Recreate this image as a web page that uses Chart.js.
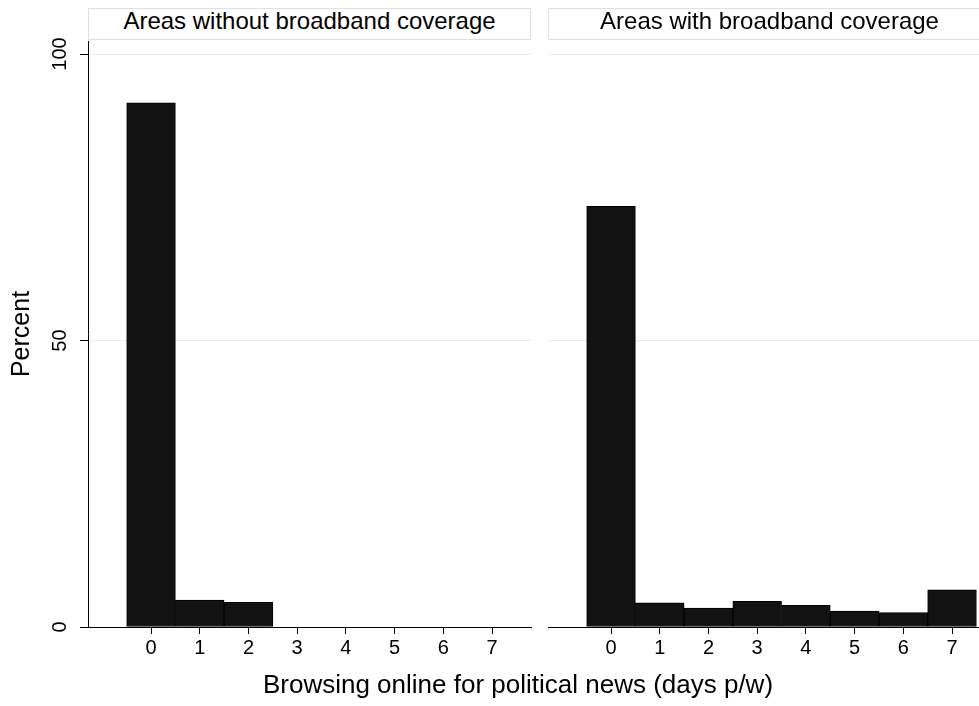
<!DOCTYPE html>
<html>
<head>
<meta charset="utf-8">
<script src="https://cdn.jsdelivr.net/npm/chart.js@4.4.1/dist/chart.umd.min.js"></script>
<style>
  html, body { margin: 0; padding: 0; background: #fff; }
  body { width: 979px; height: 706px; overflow: hidden; position: relative;
         font-family: "Liberation Sans", Arial, sans-serif; color: #000; }
  canvas { position: absolute; top: 0; }
  .strip { position: absolute; top: 8px; height: 30px; border: 1px solid #d7e4eb;
           background: #fff; font-size: 24px; line-height: 24px; text-align: center;
           white-space: nowrap; overflow: hidden; z-index: 2; }
  #xtitle { position: absolute; top: 671px; left: 0; width: 1036px; text-align: center;
            font-size: 26px; line-height: 26px; white-space: nowrap; }
</style>
</head>
<body>
<div class="strip" id="strip0" style="left:88px; width:441px;"></div>
<div class="strip" id="strip1" style="left:548px; width:441px;"></div>
<canvas id="panel0" width="540" height="706" style="left:0;"></canvas>
<canvas id="panel1" width="461" height="706" style="left:530px;"></canvas>
<div id="xtitle"></div>
<script>
// Days per week spent browsing online for political news
const days = [0, 1, 2, 3, 4, 5, 6, 7];
// Percent of respondents in each group
const noBroadband   = [91.5, 4.7, 4.3, 0, 0, 0, 0, 0];
const withBroadband = [73.4, 4.2, 3.3, 4.5, 3.8, 2.8, 2.5, 6.5];
const percentTicks = [0, 50, 100];
const panelTitles = ['Areas without broadband coverage', 'Areas with broadband coverage'];
const xTitle = 'Browsing online for political news (days p/w)';
const yTitle = 'Percent';

const FONT = '"Liberation Sans", Arial, sans-serif';

document.getElementById('strip0').textContent = panelTitles[0];
document.getElementById('strip1').textContent = panelTitles[1];
document.getElementById('xtitle').textContent = xTitle;

// Vertical (bottom-to-top) tick labels for the percent axis
const rotatedYTicks = {
  id: 'rotatedYTicks',
  afterDraw(chart, args, opts) {
    if (!opts.show) return;
    const scale = chart.scales.y;
    const ctx = chart.ctx;
    ctx.save();
    ctx.font = '20px ' + FONT;
    ctx.fillStyle = '#000';
    ctx.textAlign = 'center';
    ctx.textBaseline = 'middle';
    scale.ticks.forEach(t => {
      ctx.save();
      ctx.translate(opts.x, scale.getPixelForValue(t.value));
      ctx.rotate(-Math.PI / 2);
      ctx.fillText(String(t.value), 0, 0);
      ctx.restore();
    });
    ctx.restore();
  }
};

function makePanel(id, values, showYAxis) {
  return new Chart(document.getElementById(id), {
    type: 'bar',
    data: {
      datasets: [{
        data: days.map((d, i) => ({ x: d, y: values[i] })),
        backgroundColor: '#121212',
        borderColor: '#000',
        borderWidth: 1,
        borderSkipped: false,
        barPercentage: 1,
        categoryPercentage: 1
      }]
    },
    options: {
      responsive: false,
      animation: false,
      devicePixelRatio: 1,
      layout: { padding: { top: 41, right: showYAxis ? 9 : 0, bottom: 0, left: 0 } },
      plugins: {
        legend: { display: false },
        tooltip: { enabled: false },
        rotatedYTicks: { show: showYAxis, x: 60.5 }
      },
      scales: {
        x: {
          type: 'linear',
          offset: false,
          min: -1.294,
          max: 7.8,
          afterBuildTicks: s => { s.ticks = days.map(v => ({ value: v })); },
          afterFit: s => { s.height = 79; },
          grid: { offset: false, drawOnChartArea: false, tickColor: '#000', tickLength: 7, lineWidth: 1 },
          border: { color: '#000', width: 1 },
          ticks: { color: '#000', font: { family: FONT, size: 20 }, padding: 2,
                   maxRotation: 0, minRotation: 0, autoSkip: false }
        },
        y: {
          min: 0,
          max: 102.27,
          afterBuildTicks: s => { s.ticks = percentTicks.map(v => ({ value: v })); },
          afterFit: s => { s.width = showYAxis ? 88 : 18; },
          grid: {
            color: c => (c.tick && c.tick.value === 0) ? 'rgba(0,0,0,0)' : '#e5edf1',
            tickColor: showYAxis ? '#000' : 'rgba(0,0,0,0)',
            tickLength: 8,
            lineWidth: 1
          },
          border: { display: showYAxis, color: '#000', width: 1 },
          ticks: { display: false },
          title: { display: showYAxis, text: yTitle, color: '#000',
                   font: { family: FONT, size: 25 }, padding: { top: 7, bottom: 0 } }
        }
      }
    },
    plugins: [rotatedYTicks]
  });
}

makePanel('panel0', noBroadband, true);
makePanel('panel1', withBroadband, false);
</script>
</body>
</html>
